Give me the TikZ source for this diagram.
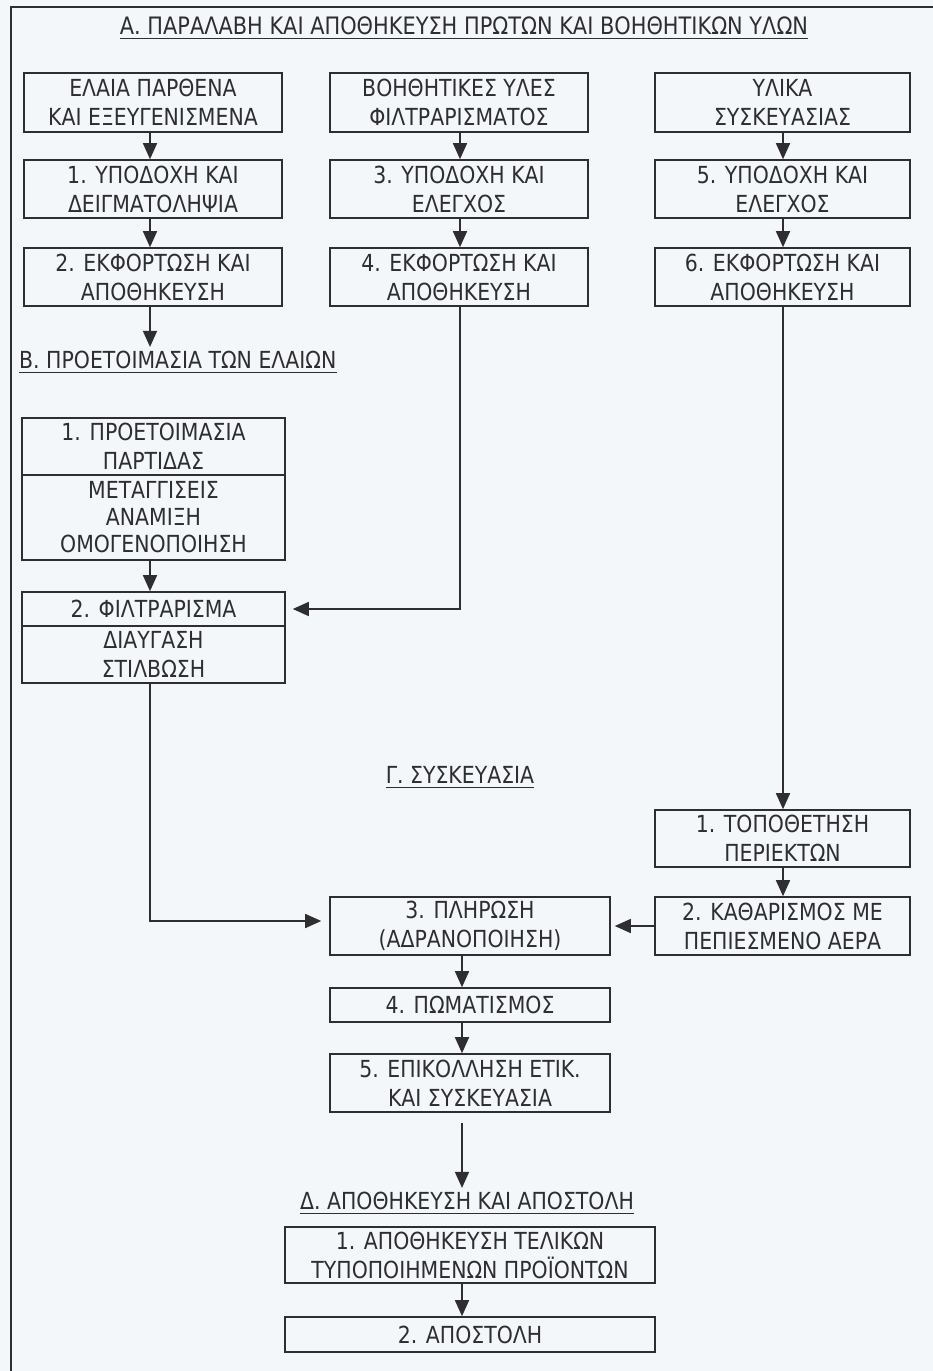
\documentclass[tikz,border=0pt]{standalone}
\usepackage{fontspec}
\setmainfont{DejaVu Sans}[FakeStretch=0.87]
\usetikzlibrary{arrows.meta}
\definecolor{paper}{HTML}{F4F7FA}
\definecolor{ink}{HTML}{2E2E30}
\begin{document}
\begin{tikzpicture}[x=1pt,y=-1pt,
  every node/.style={text=ink},
  box/.style={draw=ink, line width=1.6pt, align=center, inner sep=0pt,
    font=\fontsize{23.5}{29}\selectfont},
  head/.style={inner sep=0pt, font=\fontsize{23.5}{29}\selectfont},
  flow/.style={draw=ink, line width=1.6pt, -{Triangle[length=16pt,width=14pt]}},
  plain/.style={draw=ink, line width=1.6pt}]
% page and frame
\fill[paper] (0,0) rectangle (933,1371);
\useasboundingbox (0,0) rectangle (933,1371);
\draw[ink, line width=2pt] (933,7) -- (11,7) -- (11,1371);

% column guides
\coordinate (colA) at (150,0);
\coordinate (colB) at (460,0);
\coordinate (colC) at (783,0);
\coordinate (colD) at (462,0);

% ---- A
\node[head, font=\fontsize{24}{29}\selectfont] (tA) at (464,26) {Α. ΠΑΡΑΛΑΒΗ ΚΑΙ ΑΠΟΘΗΚΕΥΣΗ ΠΡΩΤΩΝ ΚΑΙ ΒΟΗΘΗΤΙΚΩΝ ΥΛΩΝ};
\draw[plain, line width=1.2pt] ([yshift=-4pt]tA.base west) -- ([yshift=-4pt]tA.base east);

\node[box, minimum width=258, minimum height=59] (a1) at (153,102.5) {ΕΛΑΙΑ ΠΑΡΘΕΝΑ\\ΚΑΙ ΕΞΕΥΓΕΝΙΣΜΕΝΑ};
\node[box, minimum width=258, minimum height=59] (a2) at (459,102.5) {ΒΟΗΘΗΤΙΚΕΣ ΥΛΕΣ\\ΦΙΛΤΡΑΡΙΣΜΑΤΟΣ};
\node[box, minimum width=255, minimum height=59] (a3) at (782.5,102.5) {ΥΛΙΚΑ\\ΣΥΣΚΕΥΑΣΙΑΣ};

\node[box, minimum width=258, minimum height=58] (a4) at (153,189) {1. ΥΠΟΔΟΧΗ ΚΑΙ\\ΔΕΙΓΜΑΤΟΛΗΨΙΑ};
\node[box, minimum width=258, minimum height=58] (a5) at (459,189) {3. ΥΠΟΔΟΧΗ ΚΑΙ\\ΕΛΕΓΧΟΣ};
\node[box, minimum width=255, minimum height=58] (a6) at (782.5,189) {5. ΥΠΟΔΟΧΗ ΚΑΙ\\ΕΛΕΓΧΟΣ};

\node[box, minimum width=258, minimum height=58] (a7) at (153,277) {2. ΕΚΦΟΡΤΩΣΗ ΚΑΙ\\ΑΠΟΘΗΚΕΥΣΗ};
\node[box, minimum width=258, minimum height=58] (a8) at (459,277) {4. ΕΚΦΟΡΤΩΣΗ ΚΑΙ\\ΑΠΟΘΗΚΕΥΣΗ};
\node[box, minimum width=255, minimum height=58] (a9) at (782.5,277) {6. ΕΚΦΟΡΤΩΣΗ ΚΑΙ\\ΑΠΟΘΗΚΕΥΣΗ};

\foreach \u/\v/\c in {a1/a4/colA, a4/a7/colA, a2/a5/colB, a5/a8/colB, a3/a6/colC, a6/a9/colC}
  \draw[flow] (\u.south -| \c) -- (\v.north -| \c);

% ---- B
\node[head, anchor=west] (tB) at (19,360) {Β. ΠΡΟΕΤΟΙΜΑΣΙΑ ΤΩΝ ΕΛΑΙΩΝ};
\draw[plain, line width=1.2pt] ([yshift=-4pt]tB.base west) -- ([yshift=-4pt]tB.base east);
\draw[flow, shorten >=4pt] (a7.south -| colA) -- (tB.north -| colA);

\node[box, minimum width=263, minimum height=57] (b1) at (153.5,446.5) {1. ΠΡΟΕΤΟΙΜΑΣΙΑ\\ΠΑΡΤΙΔΑΣ};
\node[box, minimum width=263, minimum height=85, font=\fontsize{23.5}{27}\selectfont] (b2) at (153.5,517.5) {ΜΕΤΑΓΓΙΣΕΙΣ\\ΑΝΑΜΙΞΗ\\ΟΜΟΓΕΝΟΠΟΙΗΣΗ};
\node[box, minimum width=263, minimum height=34] (b3) at (153.5,609) {2. ΦΙΛΤΡΑΡΙΣΜΑ};
\node[box, minimum width=263, minimum height=57] (b4) at (153.5,654.5) {ΔΙΑΥΓΑΣΗ\\ΣΤΙΛΒΩΣΗ};
\draw[flow] (b2.south -| colA) -- (b3.north -| colA);

\coordinate (bendB) at (460,609);
\draw[flow, shorten >=7pt] (a8.south -| colB) -- (bendB) -- (b3.east);

% ---- Γ
\node[head] (tC) at (460,775) {Γ. ΣΥΣΚΕΥΑΣΙΑ};
\draw[plain, line width=1.2pt] ([yshift=-4pt]tC.base west) -- ([yshift=-4pt]tC.base east);

\node[box, minimum width=255, minimum height=57] (c1) at (782.5,838.5) {1. ΤΟΠΟΘΕΤΗΣΗ\\ΠΕΡΙΕΚΤΩΝ};
\node[box, minimum width=255, minimum height=58] (c2) at (782.5,926) {2. ΚΑΘΑΡΙΣΜΟΣ ΜΕ\\ΠΕΠΙΕΣΜΕΝΟ ΑΕΡΑ};
\node[box, minimum width=280, minimum height=58] (c3) at (470,926) {3. ΠΛΗΡΩΣΗ\\(ΑΔΡΑΝΟΠΟΙΗΣΗ)};
\node[box, minimum width=280, minimum height=34] (c4) at (470,1005) {4. ΠΩΜΑΤΙΣΜΟΣ};
\node[box, minimum width=280, minimum height=58] (c5) at (470,1083) {5. ΕΠΙΚΟΛΛΗΣΗ ΕΤΙΚ.\\ΚΑΙ ΣΥΣΚΕΥΑΣΙΑ};

\draw[flow] (a9.south -| colC) -- (c1.north -| colC);
\draw[flow] (c1.south -| colC) -- (c2.north -| colC);
\draw[flow, shorten >=4pt] (c2.west) -- (c3.east);
\coordinate (bendA) at (150,921);
\draw[flow, shorten >=8pt] (b4.south -| colA) -- (bendA) -- ([yshift=5pt]c3.west);
\draw[flow] (c3.south -| colD) -- (c4.north -| colD);
\draw[flow] (c4.south -| colD) -- (c5.north -| colD);

% ---- Δ
\node[head] (tD) at (467,1201) {Δ. ΑΠΟΘΗΚΕΥΣΗ ΚΑΙ ΑΠΟΣΤΟΛΗ};
\draw[plain, line width=1.2pt] ([yshift=-4pt]tD.base west) -- ([yshift=-4pt]tD.base east);
\draw[flow, shorten <=10pt, shorten >=4pt] (c5.south -| colD) -- (tD.north -| colD);

\node[box, minimum width=370, minimum height=56] (d1) at (470,1255) {1. ΑΠΟΘΗΚΕΥΣΗ ΤΕΛΙΚΩΝ\\ΤΥΠΟΠΟΙΗΜΕΝΩΝ ΠΡΟΪΟΝΤΩΝ};
\node[box, minimum width=370, minimum height=35] (d2) at (470,1334.5) {2. ΑΠΟΣΤΟΛΗ};
\draw[flow] (d1.south -| colD) -- (d2.north -| colD);
\end{tikzpicture}
\end{document}
